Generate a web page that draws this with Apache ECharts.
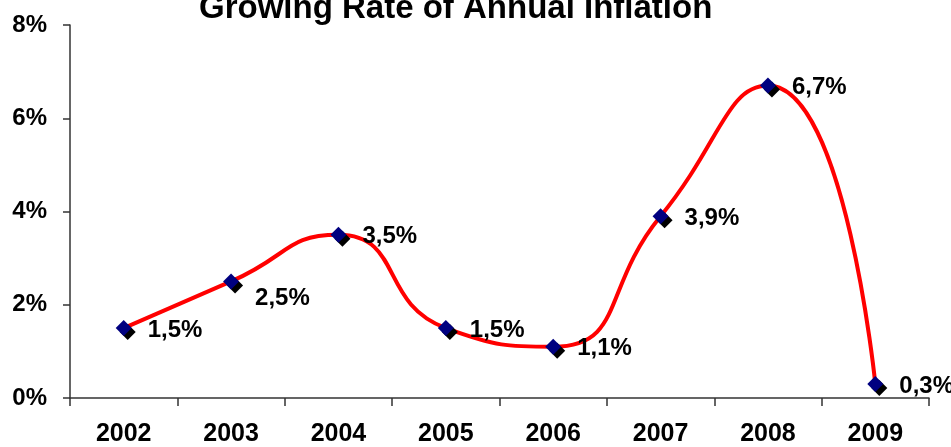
<!DOCTYPE html>
<html>
<head>
<meta charset="utf-8">
<script src="https://cdn.jsdelivr.net/npm/echarts@6/dist/echarts.min.js"></script>
<style>
html,body{margin:0;padding:0;background:#fff;}
#c{width:951px;height:447px;}
</style>
</head>
<body>
<div id="c"></div>
<script>
var titleText = 'Growing Rate of Annual Inflation';
var categories = ['2002','2003','2004','2005','2006','2007','2008','2009'];
var inflation = [1.5, 2.5, 3.5, 1.5, 1.1, 3.9, 6.7, 0.3];
var yTicks = [0, 2, 4, 6, 8];

var font = '"Liberation Sans", Arial, sans-serif';
var chart = echarts.init(document.getElementById('c'), null, {renderer:'canvas'});

var seriesData = inflation.map(function(v, i){
  var d = {value: v};
  if (i === 1) d.label = {offset: [0, 17]};
  else d.label = {offset: [0, 2]};
  return d;
});

chart.setOption({
  animation: false,
  backgroundColor: '#fff',
  title: {
    text: titleText,
    left: 199,
    top: -8,
    padding: 0,
    textStyle: {fontFamily: font, fontWeight: 'bold', fontSize: 33, color: '#000'}
  },
  grid: {left: 70, right: 22, top: 25, bottom: 47, containLabel: false},
  xAxis: {
    type: 'category',
    data: categories,
    boundaryGap: true,
    axisLine: {lineStyle: {color: '#333', width: 1.5}},
    axisTick: {show: true, length: 8, lineStyle: {color: '#333', width: 1.5}},
    axisLabel: {margin: 24, fontFamily: font, fontWeight: 'bold', fontSize: 25, color: '#000'},
    splitLine: {show: false}
  },
  yAxis: {
    type: 'value',
    min: yTicks[0],
    max: yTicks[yTicks.length - 1],
    interval: yTicks[1] - yTicks[0],
    axisLine: {show: true, lineStyle: {color: '#333', width: 1.5}},
    axisTick: {show: true, length: 7, lineStyle: {color: '#333', width: 1.5}},
    axisLabel: {margin: 23, formatter: '{value}%', fontFamily: font, fontWeight: 'bold', fontSize: 24, color: '#000'},
    splitLine: {show: false}
  },
  series: [{
    type: 'line',
    data: seriesData,
    smooth: 0.55,
    symbol: 'diamond',
    symbolSize: 16,
    lineStyle: {color: '#ff0000', width: 4},
    itemStyle: {color: '#000080', shadowColor: '#000', shadowBlur: 0, shadowOffsetX: 4, shadowOffsetY: 4},
    label: {
      show: true,
      position: 'right',
      distance: 16,
      formatter: function(p){ return String(p.value).replace('.', ',') + '%'; },
      fontFamily: font, fontWeight: 'bold', fontSize: 24, color: '#000'
    }
  }]
});
</script>
</body>
</html>
